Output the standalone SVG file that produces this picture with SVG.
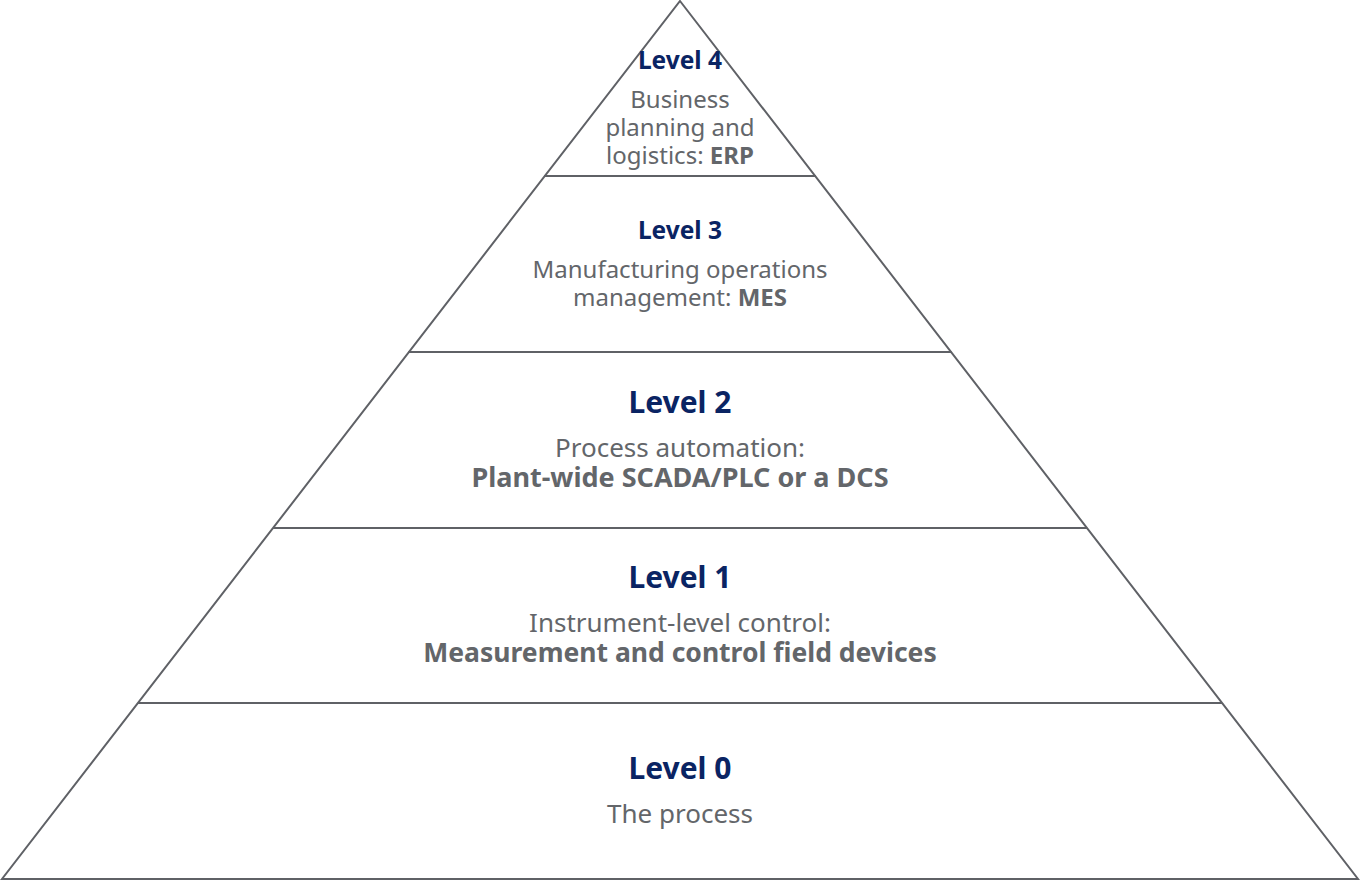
<svg xmlns="http://www.w3.org/2000/svg" width="1360" height="880" viewBox="0 0 1360 880">
<style>
.ln{stroke:#5f6166;stroke-width:2;fill:none}
text{font-family:"Noto Sans","Open Sans","Liberation Sans",sans-serif;text-anchor:middle}
.h{fill:#0a2463;font-weight:700}
.b{fill:#63666a}
.bb{fill:#63666a;font-weight:700}
</style>
<rect width="1360" height="880" fill="#ffffff"/>
<g id="connectors">
<path class="ln" d="M680,1 L1358,879 L2,879 Z"/>
<line class="ln" x1="544" y1="176" x2="816" y2="176"/>
<line class="ln" x1="408.5" y1="352" x2="951.5" y2="352"/>
<line class="ln" x1="273" y1="528" x2="1087" y2="528"/>
<line class="ln" x1="138" y1="703" x2="1222" y2="703"/>
</g>
<g id="level4">
<text class="h" x="680" y="69" font-size="24.5">Level 4</text>
<text class="b" x="680" y="108" font-size="24">Business</text>
<text class="b" x="680" y="136" font-size="24">planning and</text>
<text class="b" x="680" y="164" font-size="24">logistics: <tspan class="bb">ERP</tspan></text>
</g>
<g id="level3">
<text class="h" x="680" y="239" font-size="24.5">Level 3</text>
<text class="b" x="680" y="278" font-size="24">Manufacturing operations</text>
<text class="b" x="680" y="306" font-size="24">management: <tspan class="bb">MES</tspan></text>
</g>
<g id="level2">
<text class="h" x="680" y="413" font-size="30">Level 2</text>
<text class="b" x="680" y="457" font-size="26">Process automation:</text>
<text class="bb" x="680" y="487" font-size="27">Plant-wide SCADA/PLC or a DCS</text>
</g>
<g id="level1">
<text class="h" x="680" y="588" font-size="30">Level 1</text>
<text class="b" x="680" y="632" font-size="26">Instrument-level control:</text>
<text class="bb" x="680" y="662" font-size="26.5">Measurement and control field devices</text>
</g>
<g id="level0">
<text class="h" x="680" y="779" font-size="30">Level 0</text>
<text class="b" x="680" y="823" font-size="26">The process</text>
</g>
</svg>
